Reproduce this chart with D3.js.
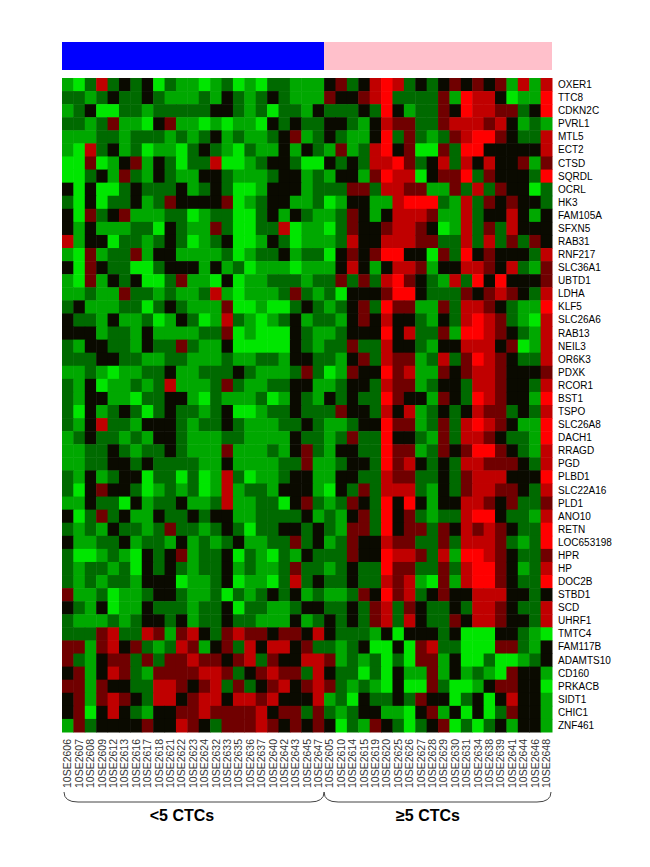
<!DOCTYPE html>
<html><head><meta charset="utf-8">
<script src="https://cdn.jsdelivr.net/npm/d3@7"></script>
<style>body{margin:0;background:#fff}text{font-family:Arial,"Liberation Sans",sans-serif}</style>
</head><body><div id="chart"></div>
<script>
const genes = ["OXER1","TTC8","CDKN2C","PVRL1","MTL5","ECT2","CTSD","SQRDL","OCRL","HK3","FAM105A","SFXN5","RAB31","RNF217","SLC36A1","UBTD1","LDHA","KLF5","SLC26A6","RAB13","NEIL3","OR6K3","PDXK","RCOR1","BST1","TSPO","SLC26A8","DACH1","RRAGD","PGD","PLBD1","SLC22A16","PLD1","ANO10","RETN","LOC653198","HPR","HP","DOC2B","STBD1","SCD","UHRF1","TMTC4","FAM117B","ADAMTS10","CD160","PRKACB","SIDT1","CHIC1","ZNF461"];
const lowSamples = ["10SE2606","10SE2607","10SE2608","10SE2609","10SE2612","10SE2613","10SE2616","10SE2617","10SE2618","10SE2621","10SE2622","10SE2623","10SE2624","10SE2632","10SE2633","10SE2635","10SE2636","10SE2637","10SE2640","10SE2642","10SE2643","10SE2645","10SE2647"];
const highSamples = ["10SE2605","10SE2610","10SE2614","10SE2615","10SE2619","10SE2620","10SE2625","10SE2626","10SE2627","10SE2628","10SE2629","10SE2630","10SE2631","10SE2634","10SE2638","10SE2639","10SE2641","10SE2644","10SE2646","10SE2648"];
const groups = ["<5 CTCs","\u22655 CTCs"];
// expression level per cell, 0 = bright green, 3 = black, 6 = bright red
const lowRows = ["10252323021101201022111","22123223211121321232111","12300221222223321202213","22124110341101011032322","11122122212123121123412","10523120110232102113132","00401341320225001233200","00231421321133211123312","30300232223123200133312","20302231243333401233112","30423411122012200231321","31311122032114200225011","51330221232012300132011","10412241331111201223122","30432200233313120111011","10413230024110301122212","11211422121125101112421","23111220232111400100232","32213112013201521012312","33312213111122401000321","21332213224211300000321","22233221122111211221332","11210112231122232111242","21301121251112421122331","21331102233102111201321","20312320232212300122322","21352213332122321112232","12322121332111221111322","11223212232111411121342","11223323222211311112241","21312330220201520112331","20343320121201512213331","11322031223112511220342","30242311322323311222231","21213221242212320223323","31122312213121231122423","20012103234122302102132","21221203232122312112422","21212213330112301102523","41120112332112021232312","32130113222122302211233","21112123323122322111312","22245225414532454434435","44145342125413425355342","42134424244544345243355","34135421444455423454425","44143322554345242345345","34145432553455355453335","34035321334454444534424","14233334335432444543434"];
const highRows = ["34235652323434341515","43345622224165530116","22232631224365544236","33213544224555453121","32113624212456643225","14125634004266333335","32325564235253533414","13314655034462433326","22442554411425243302","01331156662152434332","12431355541152335313","02433455430152425333","12533555442252524243","03434663304263433325","13531355413355435214","24242564321526363334","20333466322243454325","12342644114255432116","21343533213256542105","12333635224166543215","22422533213355534015","21342544125246543225","01433645114345543334","12332544123325543325","32322643314326543316","24332535123235442325","11233644124256543116","12422633214255432216","13322644124346643215","12332645323255444325","13322544223245553336","03242555213245544325","12432636313355434224","21342634212256632215","21442634424354543226","12433544224255542126","22433655425166543224","12322644224256643125","22322545104156643226","11243645234335553323","22324524322325543225","32324525322435543325","32221303332300033210","21230030452200044213","41212020441300200123","32202031141312104331","42121030042001344330","12032232433023035331","21233110341303024331","30214320234020231331"];

const samples = lowSamples.concat(highSamples);
const cells = [];
genes.forEach((g, i) => {
  const s = lowRows[i] + highRows[i];
  samples.forEach((c, j) => cells.push({gene: g, sample: c, v: +s[j]}));
});

const W = 650, H = 867;
const svg = d3.select("#chart").append("svg").attr("width", W).attr("height", H);
const x = d3.scaleBand().domain(samples).range([62, 552]);
const y = d3.scaleBand().domain(genes).range([78, 732]);
const color = d3.scaleOrdinal().domain([0, 1, 2, 3, 4, 5, 6])
  .range(["#00e600", "#00a800", "#006a00", "#0a0a00", "#700000", "#c00000", "#ff0000"]);

// group bar
svg.append("rect").attr("x", 62).attr("y", 42).attr("width", x(highSamples[0]) - 62).attr("height", 28).attr("fill", "#0000ff");
svg.append("rect").attr("x", x(highSamples[0])).attr("y", 42).attr("width", 552 - x(highSamples[0])).attr("height", 28).attr("fill", "#ffc0cb");

svg.selectAll("rect.cell").data(cells).enter().append("rect")
  .attr("class", "cell")
  .attr("x", d => x(d.sample)).attr("y", d => y(d.gene))
  .attr("width", x.bandwidth() + 0.5).attr("height", y.bandwidth() + 0.5)
  .attr("fill", d => color(d.v));

svg.append("g").selectAll("text").data(genes).enter().append("text")
  .attr("x", 558).attr("y", d => y(d) + y.bandwidth() / 2).attr("dy", "0.35em")
  .attr("font-size", 10).text(d => d);

svg.append("g").selectAll("text").data(samples).enter().append("text")
  .attr("transform", d => `translate(${x(d) + x.bandwidth() / 2},739) rotate(-90)`)
  .attr("dy", "0.35em").attr("text-anchor", "end")
  .attr("font-size", 10.5).attr("fill", "#333").text(d => d);

// braces
function brace(x0, x1) {
  const yt = 792, yb = 802;
  return `M${x0},${yt} Q${x0},${yb} ${x0 + 14},${yb} L${x1 - 14},${yb} Q${x1},${yb} ${x1},${yt}`;
}
const mid = x(highSamples[0]);
svg.append("path").attr("d", brace(64, mid)).attr("fill", "none").attr("stroke", "#444").attr("stroke-width", 1);
svg.append("path").attr("d", brace(mid, 551)).attr("fill", "none").attr("stroke", "#444").attr("stroke-width", 1);

svg.append("g").selectAll("text").data(groups).enter().append("text")
  .attr("x", (d, i) => i === 0 ? 182 : 428).attr("y", 821)
  .attr("text-anchor", "middle").attr("font-size", 16).attr("font-weight", "bold")
  .text(d => d);
</script></body></html>
